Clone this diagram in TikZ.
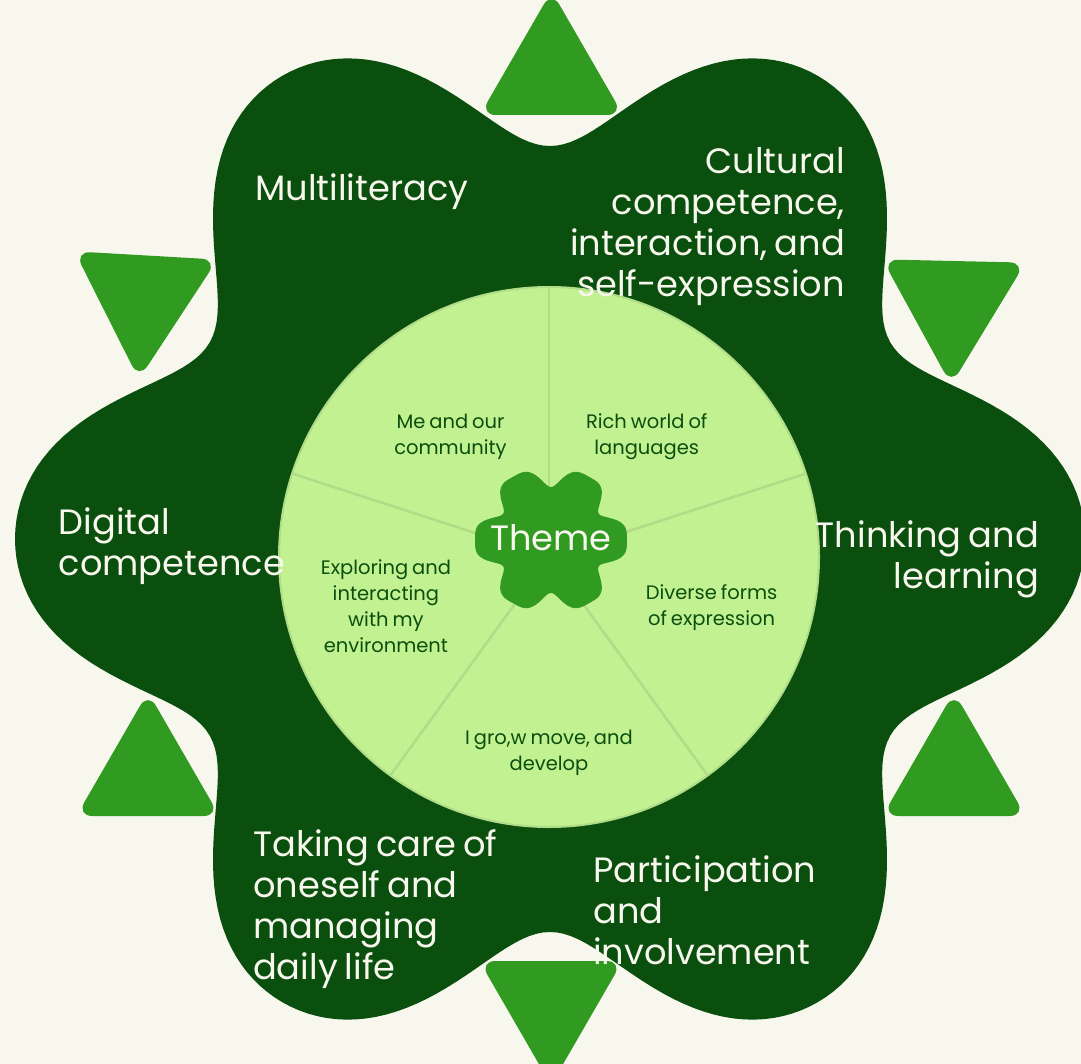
\documentclass[tikz,border=0pt]{standalone}
\usepackage{fontspec}
\setmainfont{Poppins}[WordSpace=0.75]
\usetikzlibrary{math}

\definecolor{cream}{HTML}{F7F7EE}
\definecolor{forest}{HTML}{0A4F0D}
\definecolor{leaf}{HTML}{319A20}
\definecolor{lime}{HTML}{C2F191}
\definecolor{limeline}{HTML}{B0DC88}

\tikzset{
  tri/.style={fill=leaf, rounded corners=16pt},
  sectorline/.style={draw=limeline, line width=2.5pt},
  bigtext/.style={text=cream, font=\fontsize{35.2}{41}\selectfont, inner sep=0pt},
  smalltext/.style={text=forest, font=\fontsize{19.5}{25.8}\selectfont, inner sep=0pt, align=center},
}

\begin{document}
\begin{tikzpicture}[x=1pt, y=-1pt]
  \tikzmath{\blobx = 550; \bloby = 539; \midx = 549; \midy = 557; \rad = 270;}
  \useasboundingbox (0,0) rectangle (1081,1064);
  \clip (0,0) rectangle (1081,1064);
  \fill[cream] (0,0) rectangle (1081,1064);

  % outer blob
  \fill[forest, shift={(\blobx,\bloby)}] plot[domain=0:359, samples=360] (\x:{470+71*cos(6*\x)-6*cos(12*\x)}) -- cycle;

  % triangles
  \foreach \tx/\ty/\rot in {551.5/73.7/0, 954/774.7/0, 148/774.7/0, 551/1002.3/180, 953/302.3/178.7, 143.6/296.7/176.7}
    \fill[tri, shift={(\tx,\ty)}, rotate=\rot] (0,41.3) -- (71.6,41.3) -- (0,-82.7) -- (-71.6,41.3) -- cycle;

  % wheel
  \coordinate (c) at (\midx,\midy);
  \fill[lime, draw=limeline, line width=2pt] (c) circle[radius=\rad pt];
  \foreach \a in {90,18,-54,-126,162}
    \draw[sectorline] (c) -- ++(\a:\rad pt);

  % theme blob
  \fill[leaf, shift={(551,540)}, xscale=1.04] plot[domain=0:359, samples=360] (\x:{66+10*cos(6*\x)-3*cos(12*\x)}) -- cycle;
  \node[bigtext, anchor=base] (theme) at (551,550) {Theme};

  \node[smalltext, anchor=base] (me) at (450.5,454) {Me and our\\community};
  \node[smalltext, anchor=base] (rich) at (646.7,454) {Rich world of\\languages};
  \node[smalltext, anchor=base] (explore) at (385.9,652) {Exploring and\\interacting\\with my\\environment};
  \node[smalltext, anchor=base] (diverse) at (711.6,625.2) {Diverse forms\\of expression};
  \node[smalltext, anchor=base] (grow) at (549,770) {I gro,w move, and\\develop};

  \node[bigtext, anchor=base west] (multi) at (255,201) {Multiliteracy};
  \node[bigtext, align=right, anchor=base east] (cult) at (845,297) {Cultural\\competence,\\interaction, and\\self-expression};
  \node[bigtext, align=left, anchor=base west] (digital) at (58.5,575) {Digital\\competence};
  \node[bigtext, align=right, anchor=base east] (think) at (1039,588) {Thinking and\\learning};
  \node[bigtext, align=left, anchor=base west] (care) at (253,979) {Taking care of\\oneself and\\managing\\daily life};
  \node[bigtext, align=left, anchor=base west] (part) at (593,964) {Participation\\and\\involvement};
\end{tikzpicture}
\end{document}
